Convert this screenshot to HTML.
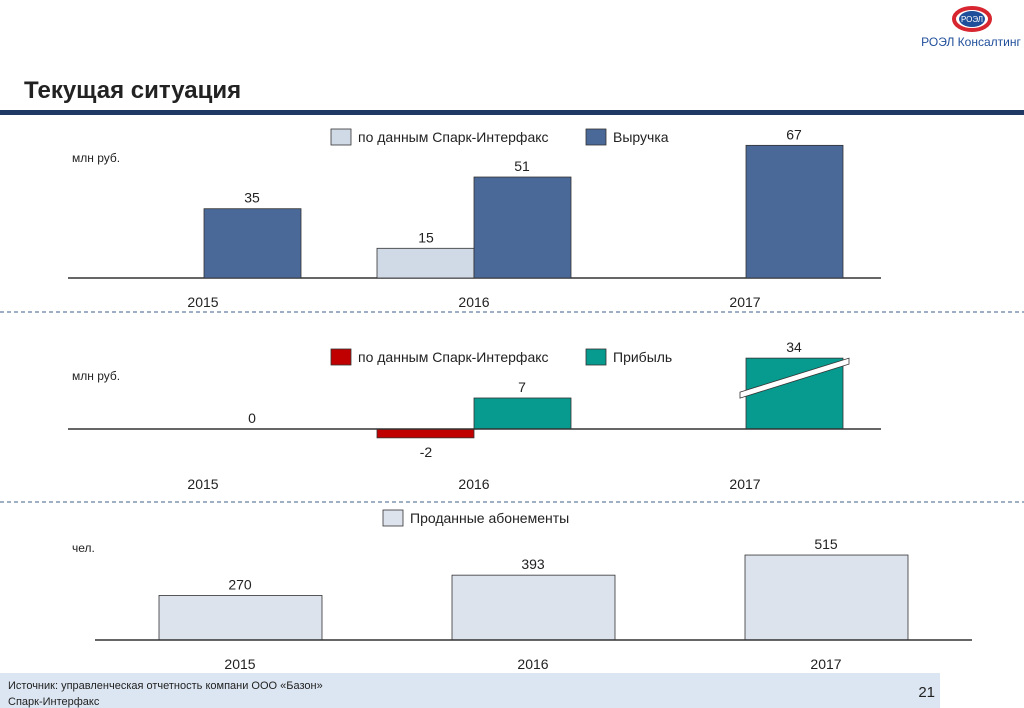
<!DOCTYPE html>
<html><head><meta charset="utf-8"><style>
body{margin:0;width:1024px;height:708px;background:#fff;overflow:hidden;font-family:"Liberation Sans",sans-serif}
svg{display:block}
text{font-family:"Liberation Sans",sans-serif}
</style></head><body>
<svg id="s" width="1024" height="708">
<g>
<ellipse cx="972" cy="19" rx="18" ry="11" fill="none" stroke="#d7262f" stroke-width="4"/>
<ellipse cx="972" cy="19" rx="13" ry="8" fill="#1f4e9a"/>
<text x="972" y="22" font-size="8" fill="#fff" text-anchor="middle">РОЭЛ</text>
<text x="971" y="46" font-size="12" fill="#1f4e9a" text-anchor="middle">РОЭЛ Консалтинг</text>
</g>
<text x="24" y="98" font-size="24" font-weight="bold" fill="#222">Текущая ситуация</text>
<rect x="0" y="110" width="1024" height="5" fill="#1f3864"/>
<line x1="0" y1="312" x2="1024" y2="312" stroke="#8096b0" stroke-width="1.5" stroke-dasharray="4,3"/>
<line x1="0" y1="502" x2="1024" y2="502" stroke="#8096b0" stroke-width="1.5" stroke-dasharray="4,3"/>
<rect x="0" y="673" width="940" height="35" fill="#dce6f2"/>
<text x="8" y="689" font-size="11" fill="#222">Источник: управленческая отчетность компани ООО «Базон»</text>
<text x="8" y="705" font-size="11" fill="#222">Спарк-Интерфакс</text>
<text x="935" y="697" font-size="15" fill="#222" text-anchor="end">21</text>
</svg>
<script>
const years=['2015','2016','2017'];
const revSpark=[null,15,null];
const revenue=[35,51,67];
const profSpark=[null,-2,null];
const profit=[0,7,34];
const profitCap=16;
const subs=[270,393,515];

const NS='http://www.w3.org/2000/svg';
const s=document.getElementById('s');
function el(t,a,txt){const e=document.createElementNS(NS,t);for(const k in a)e.setAttribute(k,a[k]);if(txt!=null)e.textContent=txt;s.appendChild(e);return e;}

// chart 1
const y1=v=>278-v*1.98;
const cx1=[252,474,794];
const lx1=[203,474,745];
el('line',{x1:68,y1:278,x2:881,y2:278,stroke:'#333','stroke-width':1.5,});
years.forEach((y,i)=>{
 let t=el('text',{x:lx1[i],y:307,'font-size':14,'text-anchor':'middle',fill:'#222'},y);
 
 let bx=cx1[i]-48;
 if(revSpark[i]!=null){
  let r=el('rect',{x:cx1[i]-97,y:y1(revSpark[i]),width:97,height:278-y1(revSpark[i]),fill:'#d0d9e6',stroke:'#333','stroke-width':0.8});
  
  let l=el('text',{x:cx1[i]-48,y:y1(revSpark[i])-6,'font-size':14,'text-anchor':'middle',fill:'#222'},revSpark[i]);
  
  bx=cx1[i];
 }
 let r=el('rect',{x:bx,y:y1(revenue[i]),width:97,height:278-y1(revenue[i]),fill:'#4a6898',stroke:'#333','stroke-width':0.8});
 
 let l=el('text',{x:bx+48,y:y1(revenue[i])-6,'font-size':14,'text-anchor':'middle',fill:'#222'},revenue[i]);
 
});
let u1=el('text',{x:72,y:162,'font-size':12,fill:'#222'},'млн руб.');
function legend(x,y,color,label,name){
 let r=el('rect',{x:x,y:y,width:20,height:16,fill:color,stroke:'#333','stroke-width':0.8});
 
 let t=el('text',{x:x+27,y:y+13,'font-size':14,fill:'#222'},label);
 
}
legend(331,129,'#d0d9e6','по данным Спарк-Интерфакс','legend-revenue-spark');
legend(586,129,'#4a6898','Выручка','legend-revenue');

// chart 2
const y2=v=>429-v*4.43;
legend(331,349,'#c00000','по данным Спарк-Интерфакс','legend-profit-spark');
legend(586,349,'#079a8e','Прибыль','legend-profit');
let u2=el('text',{x:72,y:380,'font-size':12,fill:'#222'},'млн руб.');
years.forEach((y,i)=>{
 let t=el('text',{x:lx1[i],y:489,'font-size':14,'text-anchor':'middle',fill:'#222'},y);
 
 let bx=cx1[i]-48;
 if(profSpark[i]!=null){
  let v=profSpark[i];
  let r=el('rect',{x:cx1[i]-97,y:Math.min(429,y2(v)),width:97,height:Math.abs(y2(v)-429),fill:'#c00000',stroke:'#333','stroke-width':0.8});
  
  let l=el('text',{x:cx1[i]-48,y:y2(v)+19,'font-size':14,'text-anchor':'middle',fill:'#222'},v);
  
  bx=cx1[i];
 }
 let v=profit[i],dv=Math.min(v,profitCap);
 if(v!==0){
  let r=el('rect',{x:bx,y:y2(dv),width:97,height:429-y2(dv),fill:'#079a8e',stroke:'#333','stroke-width':0.8});
  
  if(v>profitCap){
   let top=y2(dv),mid=top+22;
   let b=el('polygon',{points:`${bx-6},${mid+12} ${bx+103},${mid-22} ${bx+103},${mid-16} ${bx-6},${mid+18}`,fill:'#fff',stroke:'#333','stroke-width':0.8});
   
  }
 }
 let l=el('text',{x:bx+48,y:(v===0?429:y2(dv))-6,'font-size':14,'text-anchor':'middle',fill:'#222'},v);
 
});
el('line',{x1:68,y1:429,x2:881,y2:429,stroke:'#333','stroke-width':1.5,});

// chart 3
const y3=v=>640-v*0.165;
const cx3=[240,533,826];
legend(383,510,'#dde3ec','Проданные абонементы','legend-subscriptions');
let u3=el('text',{x:72,y:552,'font-size':12,fill:'#222'},'чел.');
years.forEach((y,i)=>{
 let t=el('text',{x:cx3[i],y:669,'font-size':14,'text-anchor':'middle',fill:'#222'},y);
 
 let r=el('rect',{x:cx3[i]-81,y:y3(subs[i]),width:163,height:640-y3(subs[i]),fill:'#dde3ec',stroke:'#333','stroke-width':0.8});
 
 let l=el('text',{x:cx3[i],y:y3(subs[i])-6,'font-size':14,'text-anchor':'middle',fill:'#222'},subs[i]);
 
});
el('line',{x1:95,y1:640,x2:972,y2:640,stroke:'#333','stroke-width':1.5,});
</script>
</body></html>
